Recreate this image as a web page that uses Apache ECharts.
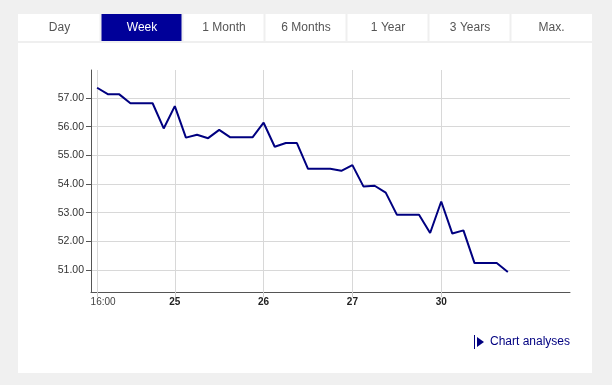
<!DOCTYPE html>
<html>
<head>
<meta charset="utf-8">
<script src="https://cdn.jsdelivr.net/npm/echarts@6/dist/echarts.min.js"></script>
<style>
html,body{margin:0;padding:0;background:#f0f0f0;}
#chart{width:612px;height:385px;}
</style>
</head>
<body>
<div id="chart"></div>
<script>
// Data
var tabs = ['Day', 'Week', '1 Month', '6 Months', '1 Year', '3 Years', 'Max.'];
var activeTab = 1;
var prices = [
  57.36, 57.13, 57.13, 56.82, 56.82, 56.82, 55.94, 56.72,
  55.62, 55.72, 55.60, 55.89, 55.63, 55.63, 55.63, 56.14,
  55.30, 55.43, 55.43, 54.53, 54.53, 54.53, 54.46, 54.66,
  53.91, 53.94, 53.70, 52.93, 52.93, 52.93, 52.29, 53.39,
  52.27, 52.38, 51.24, 51.24, 51.24, 50.93
];
var xTickIdx = [0, 7, 15, 23, 31];
var xTickLabels = ['16:00', '25', '26', '27', '30'];
var yTicks = [51, 52, 53, 54, 55, 56, 57];

var seriesData = prices.map(function (v, i) { return [i, v]; });
var labelMap = {};
xTickIdx.forEach(function (v, i) { labelMap[v] = xTickLabels[i]; });

// Tabs graphics
var graphics = [];
graphics.push({type: 'rect', shape: {x: 18, y: 14, width: 574, height: 359}, style: {fill: '#ffffff'}, z: -10});
var tabX = [18, 101, 183, 265, 347, 429, 511, 592];
for (var i = 0; i < tabs.length; i++) {
  var x0 = tabX[i], x1 = tabX[i + 1] - (i < tabs.length - 1 ? 1 : 0);
  if (i === activeTab) {
    graphics.push({type: 'rect', shape: {x: x0, y: 14, width: x1 - x0, height: 27}, style: {fill: '#000099'}, z: -5});
  }
  if (i > 0) {
    graphics.push({type: 'rect', shape: {x: tabX[i] - 1.5, y: 14, width: 2, height: 27}, style: {fill: '#efefef'}, z: -4});
  }
  graphics.push({
    type: 'text', x: (tabX[i] + tabX[i + 1]) / 2, y: 28, z: 5,
    style: {text: tabs[i], fill: i === activeTab ? '#ffffff' : '#555555', font: '12px "Liberation Sans", Arial, sans-serif', align: 'center', verticalAlign: 'middle'}
  });
}
graphics.push({type: 'rect', shape: {x: 18, y: 41, width: 574, height: 2}, style: {fill: '#efefef'}, z: -4});
// Chart analyses link
graphics.push({type: 'rect', shape: {x: 474, y: 335, width: 1, height: 14}, style: {fill: '#000080'}});
graphics.push({type: 'polygon', shape: {points: [[477, 337], [477, 347], [484, 342]]}, style: {fill: '#000080'}});
graphics.push({type: 'text', x: 490, y: 342, style: {text: 'Chart analyses', fill: '#000080', font: '12px "Liberation Sans", Arial, sans-serif', verticalAlign: 'middle'}});

var chart = echarts.init(document.getElementById('chart'), null, {renderer: 'canvas'});
chart.setOption({
  backgroundColor: '#f0f0f0',
  animation: false,
  graphic: graphics,
  grid: {left: 91, top: 70, right: 42, bottom: 93, containLabel: false},
  xAxis: {
    type: 'value', min: -0.55, max: 42.6,
    axisLine: {show: true, onZero: false, lineStyle: {color: '#555555', width: 1}},
    axisTick: {show: true, length: 5, customValues: xTickIdx, lineStyle: {color: '#cccccc'}},
    axisLabel: {
      customValues: xTickIdx, margin: 5,
      formatter: function (v) {
        var s = labelMap[Math.round(v)];
        if (s === undefined) return '';
        return Math.round(v) === 0 ? '{t|' + s + '}' : '{d|' + s + '}';
      },
      rich: {
        t: {fontSize: 10, color: '#444', fontFamily: '"Liberation Sans", Arial, sans-serif', padding: [0, 0, 0, 12]},
        d: {fontSize: 10, color: '#222', fontWeight: 'bold', fontFamily: '"Liberation Sans", Arial, sans-serif'}
      }
    },
    splitLine: {show: true, showMinLine: true, showMaxLine: true, lineStyle: {color: '#d8d8d8', width: 1}}
  },
  yAxis: {
    type: 'value', min: 50.23, max: 57.98,
    axisLine: {show: true, onZero: false, lineStyle: {color: '#555555', width: 1}},
    axisTick: {show: true, length: 5, customValues: yTicks, lineStyle: {color: '#555555'}},
    axisLabel: {
      customValues: yTicks, margin: 7,
      color: '#333', fontSize: 10.5, fontFamily: '"Liberation Sans", Arial, sans-serif',
      formatter: function (v) { return v.toFixed(2); }
    },
    splitLine: {show: true, showMinLine: true, showMaxLine: true, lineStyle: {color: '#d8d8d8', width: 1}}
  },
  series: [{
    type: 'line', data: seriesData, showSymbol: false, symbol: 'none',
    lineStyle: {color: '#000080', width: 2}, z: 10
  }]
});
</script>
</body>
</html>
